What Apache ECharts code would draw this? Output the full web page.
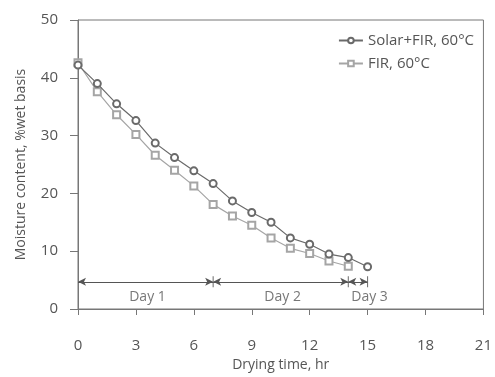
<!DOCTYPE html>
<html>
<head>
<meta charset="utf-8">
<script src="https://cdn.jsdelivr.net/npm/echarts@6/dist/echarts.min.js"></script>
<style>
html,body{margin:0;padding:0;background:#fff;}
#chart{width:495px;height:377px;}
</style>
</head>
<body>
<div id="chart"></div>
<script>
var hours = [0,1,2,3,4,5,6,7,8,9,10,11,12,13,14,15];
var solarFir = [42.2,39.0,35.5,32.6,28.7,26.2,23.9,21.7,18.7,16.7,15.0,12.3,11.2,9.5,8.9,7.3];
var firOnly = [42.6,37.6,33.6,30.2,26.6,24.0,21.3,18.1,16.1,14.5,12.3,10.5,9.6,8.3,7.4];
var dayBounds = [0,7,14,15];
var dayNames = ['Day 1','Day 2','Day 3'];
var dayNameX = [3.6,10.6,15.1];
var arrowY = 4.7;
var dayNameY = 2.1;

var font = 'Open Sans';
var txt = '#555';

function pairs(xs, ys) {
	var out = [];
	for (var i = 0; i < ys.length; i++) out.push([xs[i], ys[i]]);
	return out;
}

var arrowLines = [];
for (var i = 0; i < dayBounds.length - 1; i++) {
	arrowLines.push([{coord:[dayBounds[i], arrowY]}, {coord:[dayBounds[i+1], arrowY]}]);
}
var sepPts = [];
for (var i = 1; i < dayBounds.length; i++) sepPts.push([dayBounds[i], arrowY]);
var dayPts = [];
for (var i = 0; i < dayNames.length; i++) dayPts.push({name:dayNames[i], value:[dayNameX[i], dayNameY]});

var myChart = echarts.init(document.getElementById('chart'));
var option = {
	animation: false,
	backgroundColor: '#fff',
	grid: {
		left: 78, right: 9, top: 20, bottom: 68,
		show: true, borderColor: '#777', borderWidth: 1
	},
	legend: {
		data: ['Solar+FIR, 60°C', 'FIR, 60°C'],
		orient: 'vertical',
		right: 16, top: 28,
		itemWidth: 24, itemHeight: 7, itemGap: 8,
		textStyle: {fontFamily: font, fontSize: 15, color: txt}
	},
	xAxis: {
		type: 'value', min: 0, max: 21, interval: 3,
		name: 'Drying time, hr', nameLocation: 'middle', nameGap: 49,
		nameTextStyle: {fontFamily: font, fontSize: 14, color: txt},
		axisLine: {lineStyle: {color: '#777'}},
		axisTick: {show: true, length: 6, lineStyle: {color: '#777'}},
		axisLabel: {margin: 29, fontFamily: font, fontSize: 15, color: txt},
		splitLine: {show: false}
	},
	yAxis: {
		type: 'value', min: 0, max: 50, interval: 10,
		name: 'Moisture content, %wet basis', nameLocation: 'middle', nameGap: 50,
		nameTextStyle: {fontFamily: font, fontSize: 14, color: txt},
		axisLine: {show: true, lineStyle: {color: '#777'}},
		axisTick: {show: true, length: 8, lineStyle: {color: '#777'}},
		axisLabel: {margin: 20, fontFamily: font, fontSize: 15, color: txt},
		splitLine: {show: false}
	},
	series: [
		{
			name: 'Solar+FIR, 60°C', type: 'line',
			data: pairs(hours, solarFir),
			symbol: 'emptyCircle', symbolSize: 7,
			lineStyle: {color: '#6a6a6a', width: 1.2},
			itemStyle: {color: '#6a6a6a', borderWidth: 1},
			z: 3
		},
		{
			name: 'FIR, 60°C', type: 'line',
			data: pairs(hours, firOnly),
			symbol: 'emptyRect', symbolSize: 7,
			lineStyle: {color: '#a5a5a5', width: 1.2},
			itemStyle: {color: '#a5a5a5', borderWidth: 1},
			z: 2
		},
		{
			name: 'days', type: 'scatter',
			data: sepPts,
			symbol: 'rect', symbolSize: [1, 11],
			itemStyle: {color: '#444'},
			silent: true,
			markLine: {
				silent: true,
				symbol: ['arrow', 'arrow'], symbolSize: [6, 8],
				label: {show: false},
				lineStyle: {color: '#555', width: 1, type: 'solid'},
				data: arrowLines
			}
		},
		{
			name: 'daylabels', type: 'scatter',
			data: dayPts,
			symbolSize: 0,
			silent: true,
			label: {
				show: true, position: 'inside', formatter: '{b}',
				fontFamily: font, fontSize: 14, color: txt
			}
		}
	]
};
myChart.setOption(option);
</script>
</body>
</html>
